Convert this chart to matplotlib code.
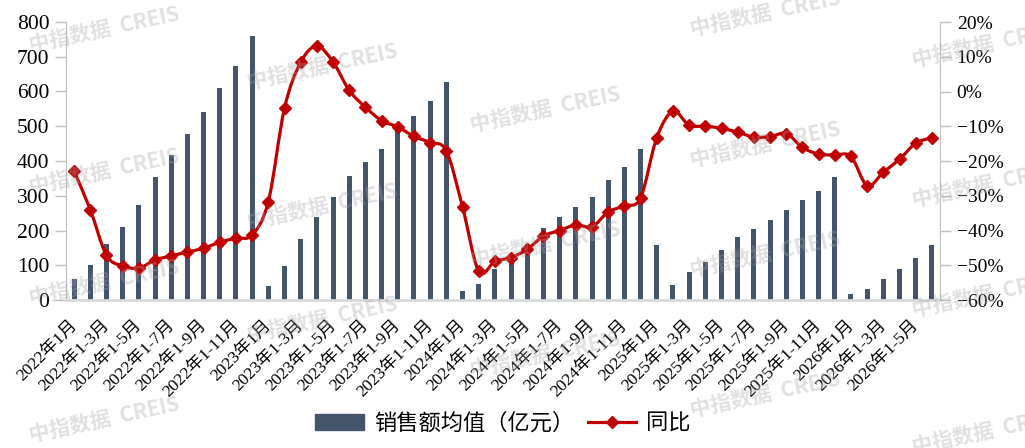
import numpy as np
import matplotlib
matplotlib.use('Agg')
import matplotlib.pyplot as plt
from matplotlib.path import Path
from matplotlib.patches import PathPatch, Patch
from matplotlib.lines import Line2D
import matplotlib.transforms as mtransforms

# Datos
anios = [2022, 2023, 2024, 2025, 2026]
meses_por_anio = [12, 12, 12, 12, 6]

ventas = [60, 100, 161, 210, 274, 354, 418, 478, 542, 611, 674, 761,
          40, 98, 176, 239, 297, 357, 398, 435, 485, 530, 573, 628,
          26, 46, 89, 120, 160, 207, 239, 268, 297, 346, 383, 435,
          158, 43, 81, 110, 144, 182, 205, 231, 259, 288, 314, 354,
          17, 32, 60, 89, 121, 158]

tongbi = [-22.9, -34.0, -47.1, -50.2, -50.8, -48.5, -47.3, -46.2, -45.1, -43.4, -42.2, -41.3,
          -31.7, -4.8, 8.4, 13.1, 8.5, 0.3, -4.5, -8.4, -10.2, -12.9, -14.7, -17.1,
          -33.2, -51.7, -48.9, -47.8, -45.4, -41.6, -40.0, -38.4, -38.9, -34.7, -32.9, -30.6,
          -13.3, -5.7, -9.7, -10.0, -10.6, -11.7, -13.1, -13.0, -12.1, -16.1, -18.0, -18.3,
          -18.7, -27.1, -23.2, -19.5, -14.9, -13.3]

# Etiquetas del eje x
etiquetas = []
for anio, n in zip(anios, meses_por_anio):
    for m in range(1, n + 1):
        etiquetas.append('%d年1月' % anio if m == 1 else '%d年1-%d月' % (anio, m))

color_barra = '#44546A'
color_linea = '#C00000'
gris = '#bfbfbf'
fuente_num = ['Liberation Serif', 'Noto Sans CJK SC']
fuente_cjk = ['Noto Sans CJK SC', 'DejaVu Sans']

W, H = 1025, 448
fig = plt.figure(figsize=(W / 100, H / 100), dpi=100)
ax = fig.add_axes([66 / W, 1 - 300 / H, (940 - 66) / W, (300 - 22) / H])
ax2 = ax.twinx()

x = np.arange(len(ventas))
ax.bar(x, ventas, width=0.31, color=color_barra, zorder=2)
ax.set_xlim(-0.5, len(ventas) - 0.5)
ax.set_ylim(0, 800)
ax.set_yticks(range(0, 801, 100))

# Linea suavizada (Bezier tipo Catmull-Rom entre los puntos)
pts = np.column_stack([x, tongbi]).astype(float)
verts = [pts[0]]
codes = [Path.MOVETO]
for i in range(len(pts) - 1):
    p0 = pts[max(i - 1, 0)]
    p1 = pts[i]
    p2 = pts[i + 1]
    p3 = pts[min(i + 2, len(pts) - 1)]
    verts += [p1 + (p2 - p0) / 6.0, p2 - (p3 - p1) / 6.0, p2]
    codes += [Path.CURVE4] * 3
ax2.add_patch(PathPatch(Path(verts, codes), fill=False, edgecolor=color_linea, lw=2.3, zorder=3))
ax2.plot(x, tongbi, linestyle='none', marker='D', markersize=5.8, color=color_linea,
         markeredgewidth=1, zorder=4)
ax2.set_ylim(-60, 20)
ax2.set_yticks(range(-60, 21, 10))
ax2.set_yticklabels([('\u2212%d%%' % -v) if v < 0 else '%d%%' % v for v in range(-60, 21, 10)])

# Ejes y bordes
for a in (ax, ax2):
    a.spines['top'].set_visible(False)
ax.spines['left'].set_color(gris)
ax.spines['right'].set_visible(False)
ax.spines['bottom'].set_color('#d9d9d9')
ax.spines['bottom'].set_linewidth(2)
ax2.spines['right'].set_color(gris)
ax2.spines['left'].set_visible(False)
ax2.spines['bottom'].set_visible(False)
ax.tick_params(axis='y', length=8, width=1, color=gris, pad=4, labelsize=15.5)
ax2.tick_params(axis='y', length=8, width=1, color=gris, pad=4, labelsize=14)
for lab in ax.get_yticklabels() + ax2.get_yticklabels():
    lab.set_family(fuente_num)

ax.set_xticks(x[::2])
ax.set_xticklabels(etiquetas[::2], rotation=45, ha='right', va='top',
                   rotation_mode='anchor', family=fuente_num, fontsize=12.5)
ax.tick_params(axis='x', length=0, pad=0)
desplaz = mtransforms.ScaledTranslation(-5 / 100, -17 / 100, fig.dpi_scale_trans)
for lab in ax.get_xticklabels():
    lab.set_transform(lab.get_transform() + desplaz)

# Leyenda
handles = [Patch(color=color_barra),
           Line2D([], [], color=color_linea, lw=2.3, marker='D', markersize=5.8)]
fig.legend(handles, ['销售额均值（亿元）', '同比'], loc='center', bbox_to_anchor=(503 / W, 1 - 423 / H),
           ncol=2, frameon=False, prop={'family': fuente_cjk, 'size': 16},
           handlelength=2.2, handletextpad=0.45, columnspacing=0.6, handleheight=0.7)

# Marca de agua
marcas = [(104, 30), (104, 172), (104, 283), (104, 420),
          (322, 67), (322, 207), (322, 320),
          (545, 110), (545, 245), (545, 355),
          (765, 14), (765, 145), (765, 255), (765, 395),
          (987, 45), (987, 185), (987, 295), (987, 432)]
for mx, my in marcas:
    fig.text(mx / W, 1 - my / H, '中指数据  CREIS', rotation=12, ha='center', va='center',
             family=fuente_cjk, fontsize=15, fontweight='bold', color='#a6a6a6', alpha=0.35, zorder=10)

fig.savefig('out.png', dpi=100)
